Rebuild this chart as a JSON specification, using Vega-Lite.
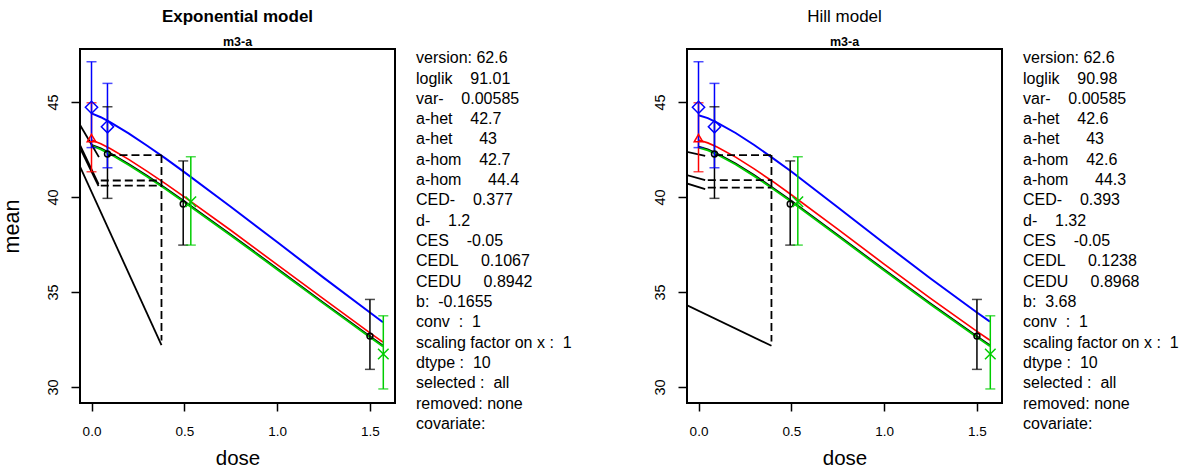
{
  "$schema": "https://vega.github.io/schema/vega-lite/v6.json",
  "background": "white",
  "padding": {"left": 0, "top": 7, "right": 0, "bottom": 0},
  "spacing": 20,
  "config": {
    "view": {"stroke": "black", "strokeWidth": 2},
    "font": "Liberation Sans",
    "axis": {"domain": false, "grid": false, "tickColor": "black", "tickWidth": 1.5, "labelColor": "black", "labelFont": "Liberation Sans", "titleFont": "Liberation Sans", "titleFontWeight": "normal", "titleColor": "black"},
    "title": {"font": "Liberation Sans", "color": "black", "subtitleFont": "Liberation Sans", "subtitleColor": "black"}
  },
  "datasets": {
    "pts": [
      {"grp": "black", "dose": 0.086, "mean": 42.26, "lo": 39.93, "hi": 44.75},
      {"grp": "black", "dose": 0.494, "mean": 39.63, "lo": 37.47, "hi": 41.9},
      {"grp": "black", "dose": 1.5, "mean": 32.68, "lo": 30.93, "hi": 34.61},
      {"grp": "red", "dose": 0, "mean": 43.1, "lo": 41.33, "hi": 44.96},
      {"grp": "green", "dose": 0.535, "mean": 39.75, "lo": 37.47, "hi": 42.12},
      {"grp": "green", "dose": 1.572, "mean": 31.74, "lo": 29.9, "hi": 33.75},
      {"grp": "blue", "dose": 0, "mean": 44.72, "lo": 42.6, "hi": 47.12},
      {"grp": "blue", "dose": 0.086, "mean": 43.7, "lo": 41.54, "hi": 45.98}
    ],
    "curves": [
      {"model": "exp", "grp": "black", "dose": 0, "mean": 42.76},
      {"model": "exp", "grp": "black", "dose": 0.05, "mean": 42.57},
      {"model": "exp", "grp": "black", "dose": 0.1, "mean": 42.32},
      {"model": "exp", "grp": "black", "dose": 0.2, "mean": 41.75},
      {"model": "exp", "grp": "black", "dose": 0.3, "mean": 41.13},
      {"model": "exp", "grp": "black", "dose": 0.4, "mean": 40.47},
      {"model": "exp", "grp": "black", "dose": 0.5, "mean": 39.79},
      {"model": "exp", "grp": "black", "dose": 0.75, "mean": 38.04},
      {"model": "exp", "grp": "black", "dose": 1.0, "mean": 36.25},
      {"model": "exp", "grp": "black", "dose": 1.25, "mean": 34.45},
      {"model": "exp", "grp": "black", "dose": 1.5, "mean": 32.68},
      {"model": "exp", "grp": "black", "dose": 1.57, "mean": 32.19},
      {"model": "exp", "grp": "green", "dose": 0, "mean": 42.7},
      {"model": "exp", "grp": "green", "dose": 0.05, "mean": 42.51},
      {"model": "exp", "grp": "green", "dose": 0.1, "mean": 42.26},
      {"model": "exp", "grp": "green", "dose": 0.2, "mean": 41.69},
      {"model": "exp", "grp": "green", "dose": 0.3, "mean": 41.07},
      {"model": "exp", "grp": "green", "dose": 0.4, "mean": 40.41},
      {"model": "exp", "grp": "green", "dose": 0.5, "mean": 39.73},
      {"model": "exp", "grp": "green", "dose": 0.75, "mean": 37.98},
      {"model": "exp", "grp": "green", "dose": 1.0, "mean": 36.19},
      {"model": "exp", "grp": "green", "dose": 1.25, "mean": 34.39},
      {"model": "exp", "grp": "green", "dose": 1.5, "mean": 32.62},
      {"model": "exp", "grp": "green", "dose": 1.57, "mean": 32.13},
      {"model": "exp", "grp": "red", "dose": 0, "mean": 43.0},
      {"model": "exp", "grp": "red", "dose": 0.05, "mean": 42.8},
      {"model": "exp", "grp": "red", "dose": 0.1, "mean": 42.55},
      {"model": "exp", "grp": "red", "dose": 0.2, "mean": 41.98},
      {"model": "exp", "grp": "red", "dose": 0.3, "mean": 41.35},
      {"model": "exp", "grp": "red", "dose": 0.4, "mean": 40.69},
      {"model": "exp", "grp": "red", "dose": 0.5, "mean": 40.01},
      {"model": "exp", "grp": "red", "dose": 0.75, "mean": 38.25},
      {"model": "exp", "grp": "red", "dose": 1.0, "mean": 36.44},
      {"model": "exp", "grp": "red", "dose": 1.25, "mean": 34.64},
      {"model": "exp", "grp": "red", "dose": 1.5, "mean": 32.85},
      {"model": "exp", "grp": "red", "dose": 1.57, "mean": 32.36},
      {"model": "exp", "grp": "blue", "dose": 0, "mean": 44.4},
      {"model": "exp", "grp": "blue", "dose": 0.05, "mean": 44.2},
      {"model": "exp", "grp": "blue", "dose": 0.1, "mean": 43.94},
      {"model": "exp", "grp": "blue", "dose": 0.2, "mean": 43.35},
      {"model": "exp", "grp": "blue", "dose": 0.3, "mean": 42.7},
      {"model": "exp", "grp": "blue", "dose": 0.4, "mean": 42.02},
      {"model": "exp", "grp": "blue", "dose": 0.5, "mean": 41.31},
      {"model": "exp", "grp": "blue", "dose": 0.75, "mean": 39.49},
      {"model": "exp", "grp": "blue", "dose": 1.0, "mean": 37.63},
      {"model": "exp", "grp": "blue", "dose": 1.25, "mean": 35.76},
      {"model": "exp", "grp": "blue", "dose": 1.5, "mean": 33.92},
      {"model": "exp", "grp": "blue", "dose": 1.57, "mean": 33.41},
      {"model": "hill", "grp": "black", "dose": 0, "mean": 42.66},
      {"model": "hill", "grp": "black", "dose": 0.05, "mean": 42.51},
      {"model": "hill", "grp": "black", "dose": 0.1, "mean": 42.3},
      {"model": "hill", "grp": "black", "dose": 0.2, "mean": 41.77},
      {"model": "hill", "grp": "black", "dose": 0.3, "mean": 41.16},
      {"model": "hill", "grp": "black", "dose": 0.4, "mean": 40.5},
      {"model": "hill", "grp": "black", "dose": 0.5, "mean": 39.81},
      {"model": "hill", "grp": "black", "dose": 0.75, "mean": 38.01},
      {"model": "hill", "grp": "black", "dose": 1.0, "mean": 36.19},
      {"model": "hill", "grp": "black", "dose": 1.25, "mean": 34.4},
      {"model": "hill", "grp": "black", "dose": 1.5, "mean": 32.68},
      {"model": "hill", "grp": "black", "dose": 1.57, "mean": 32.21},
      {"model": "hill", "grp": "green", "dose": 0, "mean": 42.6},
      {"model": "hill", "grp": "green", "dose": 0.05, "mean": 42.45},
      {"model": "hill", "grp": "green", "dose": 0.1, "mean": 42.24},
      {"model": "hill", "grp": "green", "dose": 0.2, "mean": 41.71},
      {"model": "hill", "grp": "green", "dose": 0.3, "mean": 41.1},
      {"model": "hill", "grp": "green", "dose": 0.4, "mean": 40.44},
      {"model": "hill", "grp": "green", "dose": 0.5, "mean": 39.75},
      {"model": "hill", "grp": "green", "dose": 0.75, "mean": 37.95},
      {"model": "hill", "grp": "green", "dose": 1.0, "mean": 36.13},
      {"model": "hill", "grp": "green", "dose": 1.25, "mean": 34.34},
      {"model": "hill", "grp": "green", "dose": 1.5, "mean": 32.62},
      {"model": "hill", "grp": "green", "dose": 1.57, "mean": 32.15},
      {"model": "hill", "grp": "red", "dose": 0, "mean": 43.0},
      {"model": "hill", "grp": "red", "dose": 0.05, "mean": 42.85},
      {"model": "hill", "grp": "red", "dose": 0.1, "mean": 42.63},
      {"model": "hill", "grp": "red", "dose": 0.2, "mean": 42.1},
      {"model": "hill", "grp": "red", "dose": 0.3, "mean": 41.48},
      {"model": "hill", "grp": "red", "dose": 0.4, "mean": 40.82},
      {"model": "hill", "grp": "red", "dose": 0.5, "mean": 40.12},
      {"model": "hill", "grp": "red", "dose": 0.75, "mean": 38.31},
      {"model": "hill", "grp": "red", "dose": 1.0, "mean": 36.47},
      {"model": "hill", "grp": "red", "dose": 1.25, "mean": 34.67},
      {"model": "hill", "grp": "red", "dose": 1.5, "mean": 32.93},
      {"model": "hill", "grp": "red", "dose": 1.57, "mean": 32.46},
      {"model": "hill", "grp": "blue", "dose": 0, "mean": 44.3},
      {"model": "hill", "grp": "blue", "dose": 0.05, "mean": 44.15},
      {"model": "hill", "grp": "blue", "dose": 0.1, "mean": 43.92},
      {"model": "hill", "grp": "blue", "dose": 0.2, "mean": 43.37},
      {"model": "hill", "grp": "blue", "dose": 0.3, "mean": 42.74},
      {"model": "hill", "grp": "blue", "dose": 0.4, "mean": 42.05},
      {"model": "hill", "grp": "blue", "dose": 0.5, "mean": 41.34},
      {"model": "hill", "grp": "blue", "dose": 0.75, "mean": 39.46},
      {"model": "hill", "grp": "blue", "dose": 1.0, "mean": 37.57},
      {"model": "hill", "grp": "blue", "dose": 1.25, "mean": 35.71},
      {"model": "hill", "grp": "blue", "dose": 1.5, "mean": 33.92},
      {"model": "hill", "grp": "blue", "dose": 1.57, "mean": 33.44}
    ],
    "segs": [
      {"model": "exp", "dash": false, "x": -0.065, "y": 43.84, "x2": 0.04, "y2": 42.1},
      {"model": "exp", "dash": false, "x": -0.065, "y": 42.8, "x2": 0.038, "y2": 40.68},
      {"model": "exp", "dash": false, "x": -0.065, "y": 42.64, "x2": 0.038, "y2": 40.58},
      {"model": "exp", "dash": false, "x": -0.065, "y": 41.67, "x2": 0.377, "y2": 32.2},
      {"model": "exp", "dash": true, "x": 0.086, "y": 42.21, "x2": 0.377, "y2": 42.21},
      {"model": "exp", "dash": true, "x": 0.05, "y": 40.87, "x2": 0.377, "y2": 40.87},
      {"model": "exp", "dash": true, "x": 0.05, "y": 40.6, "x2": 0.377, "y2": 40.6},
      {"model": "exp", "dash": true, "x": 0.377, "y": 42.21, "x2": 0.377, "y2": 32.45},
      {"model": "hill", "dash": false, "x": -0.065, "y": 42.38, "x2": 0.036, "y2": 42.16},
      {"model": "hill", "dash": false, "x": -0.065, "y": 41.16, "x2": 0.036, "y2": 40.89},
      {"model": "hill", "dash": false, "x": -0.065, "y": 40.72, "x2": 0.036, "y2": 40.42},
      {"model": "hill", "dash": false, "x": -0.065, "y": 34.32, "x2": 0.393, "y2": 32.17},
      {"model": "hill", "dash": true, "x": 0.089, "y": 42.21, "x2": 0.393, "y2": 42.21},
      {"model": "hill", "dash": true, "x": 0.05, "y": 40.89, "x2": 0.393, "y2": 40.89},
      {"model": "hill", "dash": true, "x": 0.05, "y": 40.49, "x2": 0.393, "y2": 40.49},
      {"model": "hill", "dash": true, "x": 0.393, "y": 42.21, "x2": 0.393, "y2": 32.4}
    ],
    "info": [
      {"model": "exp", "i": 1, "label": "version: 62.6"},
      {"model": "exp", "i": 2, "label": "loglik\u00a0\u00a0\u00a0\u00a091.01"},
      {"model": "exp", "i": 3, "label": "var-\u00a0\u00a0\u00a0\u00a00.00585"},
      {"model": "exp", "i": 4, "label": "a-het\u00a0\u00a0\u00a0\u00a042.7"},
      {"model": "exp", "i": 5, "label": "a-het\u00a0\u00a0\u00a0\u00a0\u00a0\u00a043"},
      {"model": "exp", "i": 6, "label": "a-hom\u00a0\u00a0\u00a0\u00a042.7"},
      {"model": "exp", "i": 7, "label": "a-hom\u00a0\u00a0\u00a0\u00a0\u00a0\u00a044.4"},
      {"model": "exp", "i": 8, "label": "CED-\u00a0\u00a0\u00a0\u00a00.377"},
      {"model": "exp", "i": 9, "label": "d-\u00a0\u00a0\u00a0\u00a01.2"},
      {"model": "exp", "i": 10, "label": "CES\u00a0\u00a0\u00a0\u00a0-0.05"},
      {"model": "exp", "i": 11, "label": "CEDL\u00a0\u00a0\u00a0\u00a0\u00a00.1067"},
      {"model": "exp", "i": 12, "label": "CEDU\u00a0\u00a0\u00a0\u00a0\u00a00.8942"},
      {"model": "exp", "i": 13, "label": "b:\u00a0\u00a0-0.1655"},
      {"model": "exp", "i": 14, "label": "conv\u00a0\u00a0:\u00a0\u00a01"},
      {"model": "exp", "i": 15, "label": "scaling factor on x :\u00a0\u00a01"},
      {"model": "exp", "i": 16, "label": "dtype :\u00a0\u00a010"},
      {"model": "exp", "i": 17, "label": "\u00a0selected :\u00a0\u00a0all"},
      {"model": "exp", "i": 18, "label": "removed: none"},
      {"model": "exp", "i": 19, "label": "covariate:"},
      {"model": "hill", "i": 1, "label": "version: 62.6"},
      {"model": "hill", "i": 2, "label": "loglik\u00a0\u00a0\u00a0\u00a090.98"},
      {"model": "hill", "i": 3, "label": "var-\u00a0\u00a0\u00a0\u00a00.00585"},
      {"model": "hill", "i": 4, "label": "a-het\u00a0\u00a0\u00a0\u00a042.6"},
      {"model": "hill", "i": 5, "label": "a-het\u00a0\u00a0\u00a0\u00a0\u00a0\u00a043"},
      {"model": "hill", "i": 6, "label": "a-hom\u00a0\u00a0\u00a0\u00a042.6"},
      {"model": "hill", "i": 7, "label": "a-hom\u00a0\u00a0\u00a0\u00a0\u00a0\u00a044.3"},
      {"model": "hill", "i": 8, "label": "CED-\u00a0\u00a0\u00a0\u00a00.393"},
      {"model": "hill", "i": 9, "label": "d-\u00a0\u00a0\u00a0\u00a01.32"},
      {"model": "hill", "i": 10, "label": "CES\u00a0\u00a0\u00a0\u00a0-0.05"},
      {"model": "hill", "i": 11, "label": "CEDL\u00a0\u00a0\u00a0\u00a0\u00a00.1238"},
      {"model": "hill", "i": 12, "label": "CEDU\u00a0\u00a0\u00a0\u00a0\u00a00.8968"},
      {"model": "hill", "i": 13, "label": "b:\u00a0\u00a03.68"},
      {"model": "hill", "i": 14, "label": "conv\u00a0\u00a0:\u00a0\u00a01"},
      {"model": "hill", "i": 15, "label": "scaling factor on x :\u00a0\u00a01"},
      {"model": "hill", "i": 16, "label": "dtype :\u00a0\u00a010"},
      {"model": "hill", "i": 17, "label": "\u00a0selected :\u00a0\u00a0all"},
      {"model": "hill", "i": 18, "label": "removed: none"},
      {"model": "hill", "i": 19, "label": "covariate:"}
    ]
  },
  "hconcat": [
    {
      "width": 315, "height": 354,
      "title": {"text": "Exponential model", "subtitle": "m3-a", "fontSize": 17, "fontWeight": "bold", "subtitleFontSize": 12.5, "subtitleFontWeight": "bold", "frame": "group", "anchor": "middle", "offset": 0, "subtitlePadding": 9.4},
      "layer": [
        {"data": {"name": "curves"}, "transform": [{"filter": "datum.model === 'exp'"}],
         "mark": {"type": "line", "clip": true},
         "encoding": {
           "x": {"field": "dose", "type": "quantitative", "scale": {"domain": [-0.062, 1.635], "nice": false, "zero": false}, "axis": {"values": [0, 0.5, 1, 1.5], "format": ".1f", "labelFontSize": 13.5, "labelPadding": 13, "tickSize": 8, "labelFlush": false, "title": "dose", "titleFontSize": 20.5, "titlePadding": 11}},
           "y": {"field": "mean", "type": "quantitative", "scale": {"domain": [29.16, 47.79], "nice": false, "zero": false}, "axis": {"values": [30, 35, 40, 45], "labelAngle": 270, "labelAlign": "center", "labelBaseline": "bottom", "labelFontSize": 14.5, "labelPadding": 11, "tickSize": 9, "title": "mean", "titleFontSize": 21.5, "titlePadding": 21.5}},
           "color": {"field": "grp", "type": "nominal", "scale": {"domain": ["black", "red", "green", "blue"], "range": ["#000000", "#FF0000", "#00CD00", "#0000FF"]}, "legend": null},
           "strokeWidth": {"field": "grp", "type": "nominal", "scale": {"domain": ["black", "red", "green", "blue"], "range": [1.5, 2, 2.4, 1.8]}, "legend": null}
         }},
        {"data": {"name": "segs"}, "transform": [{"filter": "datum.model === 'exp' && !datum.dash"}],
         "mark": {"type": "rule", "clip": true, "color": "black", "strokeWidth": 1.8},
         "encoding": {"x": {"field": "x", "type": "quantitative"}, "y": {"field": "y", "type": "quantitative"}, "x2": {"field": "x2"}, "y2": {"field": "y2"}}},
        {"data": {"name": "segs"}, "transform": [{"filter": "datum.model === 'exp' && datum.dash"}],
         "mark": {"type": "rule", "clip": true, "color": "black", "strokeWidth": 1.8, "strokeDash": [8, 4]},
         "encoding": {"x": {"field": "x", "type": "quantitative"}, "y": {"field": "y", "type": "quantitative"}, "x2": {"field": "x2"}, "y2": {"field": "y2"}}},
        {"data": {"name": "pts"},
         "mark": {"type": "rule", "strokeWidth": 1.5},
         "encoding": {"x": {"field": "dose", "type": "quantitative"}, "y": {"field": "lo", "type": "quantitative"}, "y2": {"field": "hi"},
           "color": {"field": "grp", "type": "nominal", "scale": {"domain": ["black", "red", "green", "blue"], "range": ["#000000", "#FF0000", "#00CD00", "#0000FF"]}, "legend": null}}},
        {"data": {"name": "pts"},
         "mark": {"type": "tick", "orient": "horizontal", "size": 10, "thickness": 1.5},
         "encoding": {"x": {"field": "dose", "type": "quantitative"}, "y": {"field": "lo", "type": "quantitative"},
           "color": {"field": "grp", "type": "nominal", "legend": null}}},
        {"data": {"name": "pts"},
         "mark": {"type": "tick", "orient": "horizontal", "size": 10, "thickness": 1.5},
         "encoding": {"x": {"field": "dose", "type": "quantitative"}, "y": {"field": "hi", "type": "quantitative"},
           "color": {"field": "grp", "type": "nominal", "legend": null}}},
        {"data": {"name": "pts"},
         "mark": {"type": "point", "filled": false, "strokeWidth": 1.5, "opacity": 1},
         "encoding": {"x": {"field": "dose", "type": "quantitative"}, "y": {"field": "mean", "type": "quantitative"},
           "color": {"field": "grp", "type": "nominal", "legend": null},
           "shape": {"field": "grp", "type": "nominal", "scale": {"domain": ["black", "red", "green", "blue"], "range": ["circle", "triangle-up", "M-1,-1L1,1M-1,1L1,-1", "diamond"]}, "legend": null},
           "size": {"field": "grp", "type": "nominal", "scale": {"domain": ["black", "red", "green", "blue"], "range": [35, 150, 120, 220]}, "legend": null}}}
      ]
    },
    {
      "width": 214, "height": 386, "view": {"stroke": null},
      "data": {"name": "info"}, "transform": [{"filter": "datum.model === 'exp'"}],
      "mark": {"type": "text", "align": "left", "baseline": "middle", "fontSize": 16, "font": "Liberation Sans", "color": "black"},
      "encoding": {
        "x": {"datum": 0, "type": "quantitative", "scale": {"domain": [0, 1]}, "axis": null},
        "y": {"field": "i", "type": "quantitative", "scale": {"domain": [0.547, 19.547], "reverse": true, "nice": false, "zero": false}, "axis": null},
        "text": {"field": "label"}
      }
    },
    {
      "width": 315, "height": 354,
      "title": {"text": "Hill model", "subtitle": "m3-a", "fontSize": 17, "fontWeight": "normal", "subtitleFontSize": 12.5, "subtitleFontWeight": "bold", "frame": "group", "anchor": "middle", "offset": 0, "subtitlePadding": 9.4},
      "layer": [
        {"data": {"name": "curves"}, "transform": [{"filter": "datum.model === 'hill'"}],
         "mark": {"type": "line", "clip": true},
         "encoding": {
           "x": {"field": "dose", "type": "quantitative", "scale": {"domain": [-0.062, 1.635], "nice": false, "zero": false}, "axis": {"values": [0, 0.5, 1, 1.5], "format": ".1f", "labelFontSize": 13.5, "labelPadding": 13, "tickSize": 8, "labelFlush": false, "title": "dose", "titleFontSize": 20.5, "titlePadding": 11}},
           "y": {"field": "mean", "type": "quantitative", "scale": {"domain": [29.16, 47.79], "nice": false, "zero": false}, "axis": {"values": [30, 35, 40, 45], "labelAngle": 270, "labelAlign": "center", "labelBaseline": "bottom", "labelFontSize": 14.5, "labelPadding": 11, "tickSize": 9, "title": null}},
           "color": {"field": "grp", "type": "nominal", "scale": {"domain": ["black", "red", "green", "blue"], "range": ["#000000", "#FF0000", "#00CD00", "#0000FF"]}, "legend": null},
           "strokeWidth": {"field": "grp", "type": "nominal", "scale": {"domain": ["black", "red", "green", "blue"], "range": [1.5, 2, 2.4, 1.8]}, "legend": null}
         }},
        {"data": {"name": "segs"}, "transform": [{"filter": "datum.model === 'hill' && !datum.dash"}],
         "mark": {"type": "rule", "clip": true, "color": "black", "strokeWidth": 1.8},
         "encoding": {"x": {"field": "x", "type": "quantitative"}, "y": {"field": "y", "type": "quantitative"}, "x2": {"field": "x2"}, "y2": {"field": "y2"}}},
        {"data": {"name": "segs"}, "transform": [{"filter": "datum.model === 'hill' && datum.dash"}],
         "mark": {"type": "rule", "clip": true, "color": "black", "strokeWidth": 1.8, "strokeDash": [8, 4]},
         "encoding": {"x": {"field": "x", "type": "quantitative"}, "y": {"field": "y", "type": "quantitative"}, "x2": {"field": "x2"}, "y2": {"field": "y2"}}},
        {"data": {"name": "pts"},
         "mark": {"type": "rule", "strokeWidth": 1.5},
         "encoding": {"x": {"field": "dose", "type": "quantitative"}, "y": {"field": "lo", "type": "quantitative"}, "y2": {"field": "hi"},
           "color": {"field": "grp", "type": "nominal", "scale": {"domain": ["black", "red", "green", "blue"], "range": ["#000000", "#FF0000", "#00CD00", "#0000FF"]}, "legend": null}}},
        {"data": {"name": "pts"},
         "mark": {"type": "tick", "orient": "horizontal", "size": 10, "thickness": 1.5},
         "encoding": {"x": {"field": "dose", "type": "quantitative"}, "y": {"field": "lo", "type": "quantitative"},
           "color": {"field": "grp", "type": "nominal", "legend": null}}},
        {"data": {"name": "pts"},
         "mark": {"type": "tick", "orient": "horizontal", "size": 10, "thickness": 1.5},
         "encoding": {"x": {"field": "dose", "type": "quantitative"}, "y": {"field": "hi", "type": "quantitative"},
           "color": {"field": "grp", "type": "nominal", "legend": null}}},
        {"data": {"name": "pts"},
         "mark": {"type": "point", "filled": false, "strokeWidth": 1.5, "opacity": 1},
         "encoding": {"x": {"field": "dose", "type": "quantitative"}, "y": {"field": "mean", "type": "quantitative"},
           "color": {"field": "grp", "type": "nominal", "legend": null},
           "shape": {"field": "grp", "type": "nominal", "scale": {"domain": ["black", "red", "green", "blue"], "range": ["circle", "triangle-up", "M-1,-1L1,1M-1,1L1,-1", "diamond"]}, "legend": null},
           "size": {"field": "grp", "type": "nominal", "scale": {"domain": ["black", "red", "green", "blue"], "range": [35, 150, 120, 220]}, "legend": null}}}
      ]
    },
    {
      "width": 170, "height": 386, "view": {"stroke": null},
      "data": {"name": "info"}, "transform": [{"filter": "datum.model === 'hill'"}],
      "mark": {"type": "text", "align": "left", "baseline": "middle", "fontSize": 16, "font": "Liberation Sans", "color": "black"},
      "encoding": {
        "x": {"datum": 0, "type": "quantitative", "scale": {"domain": [0, 1]}, "axis": null},
        "y": {"field": "i", "type": "quantitative", "scale": {"domain": [0.547, 19.547], "reverse": true, "nice": false, "zero": false}, "axis": null},
        "text": {"field": "label"}
      }
    }
  ]
}
